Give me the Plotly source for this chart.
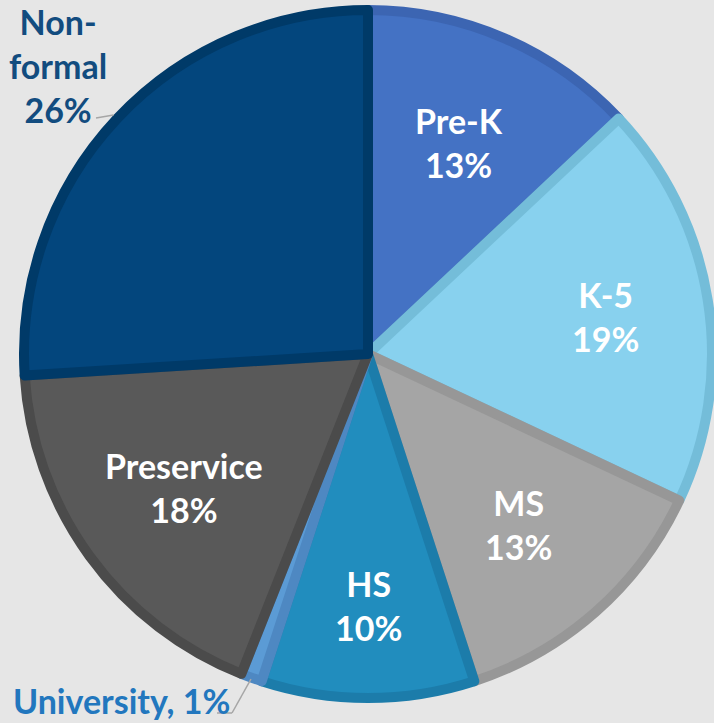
import math
import plotly.graph_objects as go

# ---- data ----
labels = ["Pre-K", "K-5", "MS", "HS", "University", "Preservice", "Non-formal"]
values = [13, 19, 13, 10, 1, 18, 26]
pct_text = ["13%", "19%", "13%", "10%", "1%", "18%", "26%"]

# ---- style ----
fill_colors = ["#4472C4", "#88D1EE", "#A5A5A5", "#218DBE", "#5B9BD5", "#595959", "#03467D"]
edge_colors = ["#3C65B2", "#74BDD9", "#979797", "#1C7CAA", "#4E88C2", "#4B4B4B", "#003A68"]
BG = "#E6E6E6"
FONT = "Lato"
FS = 34

W, H = 714, 723
CX, CY = 368, 354          # pie centre (px)
R_VIS = 349                # visual radius (px)
LINE_W = 10
R_PLOT = R_VIS - LINE_W / 2
L = CX - R_PLOT
T = CY - R_PLOT
PW = PH = 2 * R_PLOT
Rm = W - L - PW
B = H - T - PH


def px2x(px):
    return (px - L) / PW


def py2y(py):
    return 1 - (py - T) / PH


total = sum(values)
cum = 0
mid_angles = []
for v in values:
    mid_angles.append((cum + v / 2) / total * 2 * math.pi)
    cum += v


def polar(frac, ang):
    return CX + frac * R_VIS * math.sin(ang), CY - frac * R_VIS * math.cos(ang)


fig = go.Figure(go.Pie(
    labels=labels,
    values=values,
    sort=False,
    direction="clockwise",
    rotation=0,
    textinfo="none",
    hoverinfo="skip",
    showlegend=False,
    marker=dict(colors=fill_colors, line=dict(color=edge_colors, width=LINE_W)),
    domain=dict(x=[0, 1], y=[0, 1]),
))

annotations = []
inside_frac = {"Pre-K": 0.66, "K-5": 0.69, "MS": 0.65, "HS": 0.72, "Preservice": 0.65}
for i, lab in enumerate(labels):
    if lab in inside_frac:
        px, py = polar(inside_frac[lab], mid_angles[i])
        annotations.append(dict(
            x=px2x(px), y=py2y(py), xref="paper", yref="paper",
            text=f"{lab}<br>{pct_text[i]}", showarrow=False,
            xanchor="center", yanchor="middle",
            font=dict(family=FONT, size=FS, color="white", weight="bold"),
        ))

# outside labels
i_nf = labels.index("Non-formal")
annotations.append(dict(
    x=px2x(58), y=py2y(65), xref="paper", yref="paper",
    text=f"Non-<br>formal<br>{pct_text[i_nf]}", showarrow=False,
    xanchor="center", yanchor="middle",
    font=dict(family=FONT, size=FS, color="#124C7F", weight="bold"),
))
i_u = labels.index("University")
annotations.append(dict(
    x=px2x(121), y=py2y(701), xref="paper", yref="paper",
    text=f"{labels[i_u]}, {pct_text[i_u]}", showarrow=False,
    xanchor="center", yanchor="middle",
    font=dict(family=FONT, size=FS, color="#2277BE", weight="bold"),
))

shapes = []
lead = dict(color="#A6A6A6", width=1.5)
ex, ey = polar(1.0, mid_angles[i_nf])
shapes.append(dict(type="line", xref="paper", yref="paper",
                   x0=px2x(96), y0=py2y(118), x1=px2x(ex), y1=py2y(ey), line=lead))
ex, ey = polar(0.99, mid_angles[i_u])
shapes.append(dict(type="line", xref="paper", yref="paper",
                   x0=px2x(217), y0=py2y(713), x1=px2x(232), y1=py2y(713), line=lead))
shapes.append(dict(type="line", xref="paper", yref="paper",
                   x0=px2x(232), y0=py2y(713), x1=px2x(ex), y1=py2y(ey), line=lead))

fig.update_layout(
    width=W, height=H,
    margin=dict(l=L, r=Rm, t=T, b=B, autoexpand=False),
    paper_bgcolor=BG, plot_bgcolor=BG,
    annotations=annotations,
    shapes=shapes,
)

fig.write_html(
    "out.html",
    config={"displayModeBar": False},
    post_script="document.body.style.margin='0';document.body.style.overflow='hidden';",
)
